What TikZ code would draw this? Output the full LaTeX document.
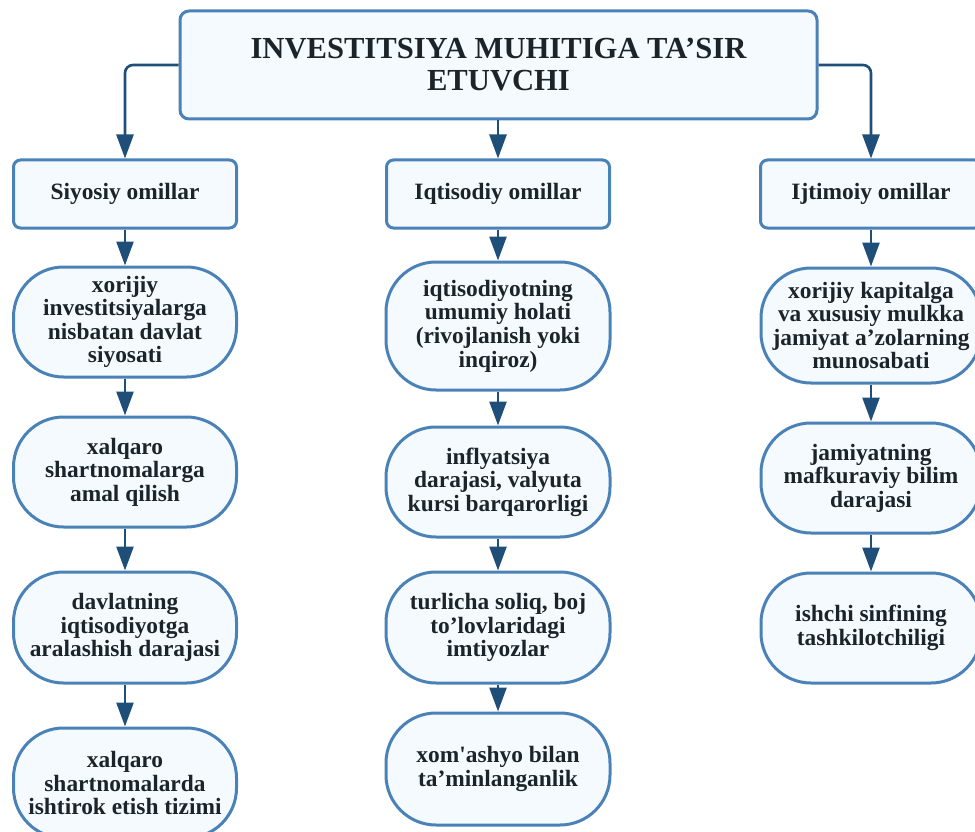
\documentclass[tikz,border=0pt]{standalone}
\usepackage{fontspec}
\setmainfont{Liberation Serif}
\usetikzlibrary{arrows.meta}
\definecolor{bord}{RGB}{74,130,184}
\definecolor{boxfill}{RGB}{245,250,255}
\definecolor{arr}{RGB}{31,78,121}
\definecolor{txt}{RGB}{28,36,42}
\newcommand{\straightq}{{\XeTeXglyph\XeTeXcharglyph"27\relax}}
\tikzset{
  base/.style={draw=bord, fill=boxfill, line width=3pt, text=txt, font=\bfseries\fontsize{23.4}{23.6}\selectfont, align=center, inner sep=2pt},
  titlebox/.style={base, rounded corners=9pt, minimum width=637pt, minimum height=108pt, font=\bfseries\fontsize{30.6}{32}\selectfont},
  catbox/.style={base, rounded corners=7pt, minimum width=223pt, minimum height=68pt},
  pill/.style={base, rounded corners=50pt, minimum width=223pt},
  conn/.style={draw=arr, line width=2.6pt, -{Triangle[length=24pt,width=17pt]}, rounded corners=8pt}
}
\begin{document}
\begin{tikzpicture}[x=1pt,y=-1pt]
\useasboundingbox (0,0) rectangle (975,832);
\clip (0,0) rectangle (975,832);
\node[titlebox] (top) at (498.5,65) {INVESTITSIYA MUHITIGA TA’SIR\\ETUVCHI};
\node[catbox] (c1) at (125,194) {Siyosiy omillar};
\node[catbox] (c2) at (498,194) {Iqtisodiy omillar};
\node[catbox, minimum width=221pt] (c3) at (871,194) {Ijtimoiy omillar};
% column 1
\node[pill, minimum height=110pt] (a1) at (125,322) {xorijiy\\investitsiyalarga\\nisbatan davlat\\siyosati};
\node[pill, minimum height=110pt] (a2) at (125,472) {xalqaro\\shartnomalarga\\amal qilish};
\node[pill, minimum height=111pt] (a3) at (125,627.5) {davlatning\\iqtisodiyotga\\aralashish darajasi};
\node[pill, minimum height=110pt] (a4) at (125,783) {xalqaro\\shartnomalarda\\ishtirok etish tizimi};
% column 2
\node[pill, minimum height=128pt, minimum width=224pt] (b1) at (498,326) {iqtisodiyotning\\umumiy holati\\(rivojlanish yoki\\inqiroz)};
\node[pill, minimum height=110pt, minimum width=224pt] (b2) at (498,482) {inflyatsiya\\darajasi, valyuta\\kursi barqarorligi};
\node[pill, minimum height=111pt, minimum width=224pt] (b3) at (498,627.5) {turlicha soliq, boj\\to’lovlaridagi\\imtiyozlar};
\node[pill, minimum height=112pt, minimum width=224pt] (b4) at (498,769) {xom\straightq ashyo bilan\\ta’minlanganlik};
% column 3
\node[pill, minimum height=115pt, minimum width=220pt] (d1) at (871,325.5) {xorijiy kapitalga\\va xususiy mulkka\\jamiyat a’zolarning\\munosabati};
\node[pill, minimum height=110pt, minimum width=220pt] (d2) at (871,478) {jamiyatning\\mafkuraviy bilim\\darajasi};
\node[pill, minimum height=110pt, minimum width=220pt] (d3) at (871,628) {ishchi sinfining\\tashkilotchiligi};
% connectors
\draw[conn] (top.west) -| (c1.north);
\draw[conn] (top.south -| c2.north) -- (c2.north);
\draw[conn] (top.east) -| (c3.north);
\draw[conn] (c1) -- (a1);
\draw[conn] (a1) -- (a2);
\draw[conn] (a2) -- (a3);
\draw[conn] (a3) -- (a4);
\draw[conn] (c2) -- (b1);
\draw[conn] (b1) -- (b2);
\draw[conn] (b2) -- (b3);
\draw[conn] (b3) -- (b4);
\draw[conn] (c3) -- (d1);
\draw[conn] (d1) -- (d2);
\draw[conn] (d2) -- (d3);
\end{tikzpicture}
\end{document}
